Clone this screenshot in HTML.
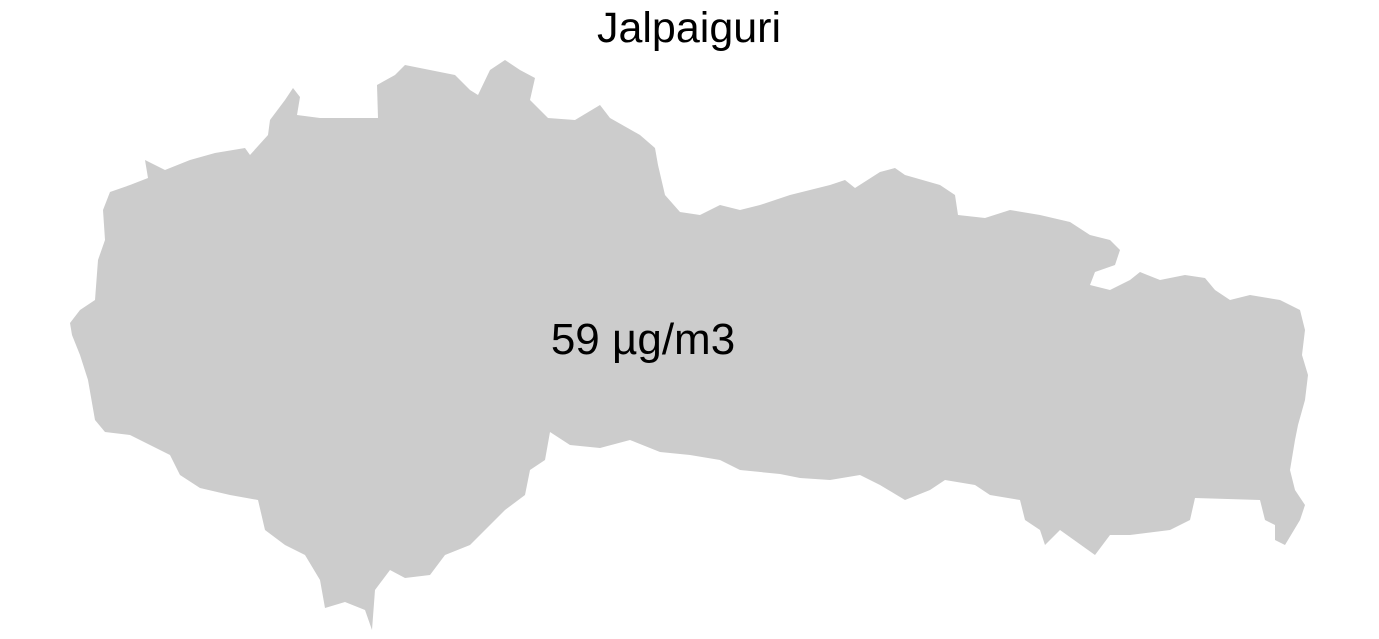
<!DOCTYPE html>
<html><head><meta charset="utf-8"><style>
html,body{margin:0;padding:0;background:#fff;}
svg{display:block;}
</style></head><body>
<svg width="1379" height="639" viewBox="0 0 1379 639">
<text x="689" y="42" text-anchor="middle" font-family="Liberation Sans, sans-serif" font-size="43" fill="#000">Jalpaiguri</text>
<polygon fill="#cccccc" points="70,323 80,310 95,300 98,260 105,240 103,210 110,192 130,185 148,178 145,160 165,170 190,160 215,153 245,148 250,155 268,135 270,120 285,100 293,88 300,97 297,115 320,118 378,118 377,85 395,75 405,65 430,70 455,75 470,90 478,95 490,70 505,60 520,70 535,78 530,100 548,118 575,120 600,105 610,118 640,135 655,148 658,165 665,195 680,212 700,215 720,205 740,210 760,205 790,195 830,185 845,180 855,188 880,172 895,168 905,175 940,185 955,195 958,215 985,218 1010,210 1040,215 1070,222 1090,235 1110,240 1120,250 1115,265 1095,272 1090,285 1110,290 1130,280 1140,272 1160,280 1185,275 1205,278 1215,290 1230,300 1250,295 1280,300 1300,310 1305,330 1302,355 1308,375 1305,400 1298,425 1295,440 1290,470 1295,490 1305,505 1300,520 1285,545 1275,540 1275,525 1265,520 1260,500 1195,498 1190,520 1170,530 1130,535 1110,535 1095,555 1060,530 1045,545 1040,530 1025,520 1020,500 990,495 975,485 945,480 930,490 905,500 880,485 860,475 830,480 800,478 780,474 740,470 720,460 690,455 660,452 630,440 600,448 570,445 550,432 545,460 530,470 525,495 505,510 490,525 470,545 445,555 430,575 405,578 390,570 375,590 372,630 365,610 345,602 325,608 320,580 305,555 285,545 265,530 258,500 230,495 200,488 180,475 170,455 150,445 130,435 105,432 95,420 88,380 80,355 72,335"/>
<text x="643" y="354" text-anchor="middle" font-family="Liberation Sans, sans-serif" font-size="44" fill="#000">59 µg/m3</text>
</svg>
</body></html>
